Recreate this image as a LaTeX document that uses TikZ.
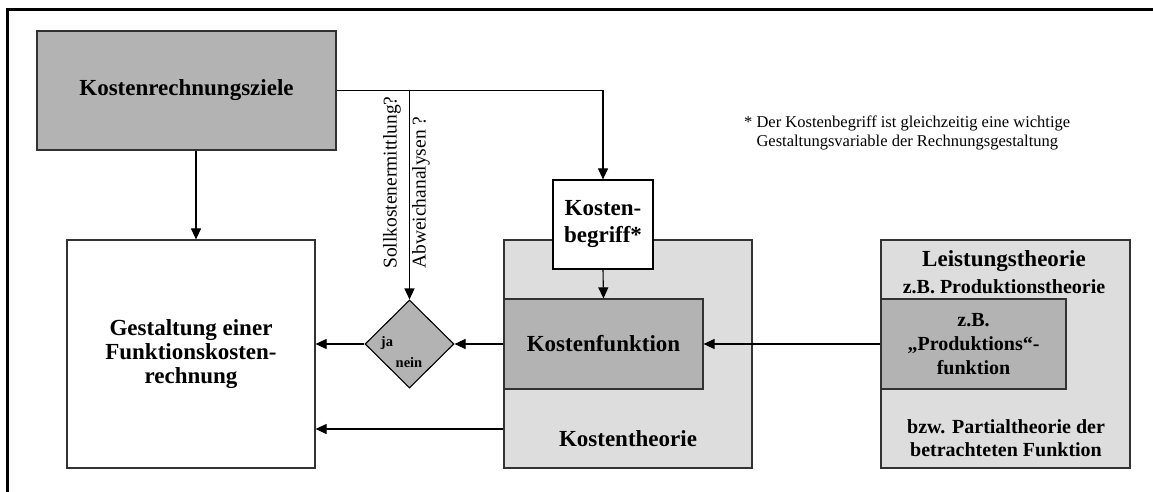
\documentclass[tikz,border=0pt]{standalone}
\usepackage{fontspec}
\setmainfont{Liberation Serif}
\usetikzlibrary{arrows.meta,shapes.geometric}
\definecolor{boxdark}{RGB}{179,179,179}
\definecolor{boxlight}{RGB}{221,221,221}
\definecolor{edgegray}{RGB}{50,50,50}
\begin{document}
\begin{tikzpicture}[x=1pt,y=-1pt,
  box/.style={draw=edgegray, line width=1.2pt, inner sep=0pt, align=center},
  big/.style={font=\fontsize{23}{24}\selectfont\bfseries},
  mid/.style={font=\fontsize{20}{24}\selectfont\bfseries},
  small/.style={font=\fontsize{14.5}{16}\selectfont\bfseries, inner sep=0pt},
  rot/.style={font=\fontsize{19.5}{22}\selectfont, inner sep=0pt, rotate=90, anchor=west},
  lab/.style={inner sep=0pt, align=center},
  arr/.style={line width=1.1pt, -{Triangle[length=11pt,width=10pt]}},
  frame/.style={line width=3pt}]
\useasboundingbox (0,0) rectangle (1153,492);
% frame
\coordinate (fr1) at (7,492);
\coordinate (fr2) at (7,10);
\coordinate (fr3) at (1153,10);
\draw[frame] (fr1) -- (fr2) -- (fr3);
% boxes
\node[box, fill=boxdark, big, minimum width=299pt, minimum height=119pt] (ziele) at (186.5,90.5) {Kostenrechnungsziele};
\node[box, fill=white, big, minimum width=248pt, minimum height=228pt] (gest) at (191,354) {Gestaltung einer\\Funktionskosten-\\rechnung};
\node[box, fill=boxlight, minimum width=248pt, minimum height=228pt] (theo) at (628,354) {};
\node[lab, big] (theolab) at (628,439) {Kostentheorie};
\node[box, fill=boxdark, big, minimum width=199pt, minimum height=90pt] (funk) at (603.5,344) {Kostenfunktion};
\node[box, draw=black, fill=white, font=\fontsize{23}{27}\selectfont\bfseries, minimum width=100pt, minimum height=89pt] (begr) at (603,224.5) {Kosten-\\begriff*};
\node[box, fill=boxlight, minimum width=249pt, minimum height=228pt] (leist) at (1005.5,354) {};
\node[lab, big] (leistlab) at (1004,261) {Leistungstheorie};
\node[lab, mid] (prodth) at (1004,287) {z.B. Produktionstheorie};
\node[box, fill=boxdark, mid, minimum width=185pt, minimum height=90pt] (prod) at (973.5,344) {z.B.\\„Produktions“-\\funktion};
\node[lab, font=\fontsize{20}{23}\selectfont\bfseries] (partial) at (1006,438) {bzw. Partialtheorie der\\betrachteten Funktion};
% decision
\node[draw=black, line width=1.1pt, fill=boxdark, diamond, minimum width=89pt, minimum height=88pt, inner sep=0pt] (dia) at (409.5,344) {};
\node[small] (ja) at (387,343) {ja};
\node[small] (nein) at (409,363) {nein};
% rotated labels
\node[rot] (soll) at (392,269) {Sollkostenermittlung?};
\node[rot] (abw) at (421,269) {Abweichanalysen ?};
% footnote
\node[lab, anchor=north west, align=left, font=\fontsize{16.5}{19}\selectfont] (note) at (744,116) {* Der Kostenbegriff ist gleichzeitig eine wichtige\\\hphantom{* }Gestaltungsvariable der Rechnungsgestaltung};
% connectors
\coordinate (cA) at (196,0);
\coordinate (cB) at (0,429);
\draw[arr] (ziele.south -| cA) -- (gest.north -| cA);
\draw[arr] (ziele.east) -| (begr.north);
\draw[arr] (ziele.east -| dia.north) -- (dia.north);
\draw[arr] (begr.south) -- (funk.north);
\draw[arr] (funk.west) -- (dia.east);
\draw[arr] (dia.west) -- (gest.east |- dia.west);
\draw[arr] (theo.west |- cB) -- (gest.east |- cB);
\draw[arr] (prod.west) -- (funk.east |- prod.west);
\end{tikzpicture}
\end{document}
